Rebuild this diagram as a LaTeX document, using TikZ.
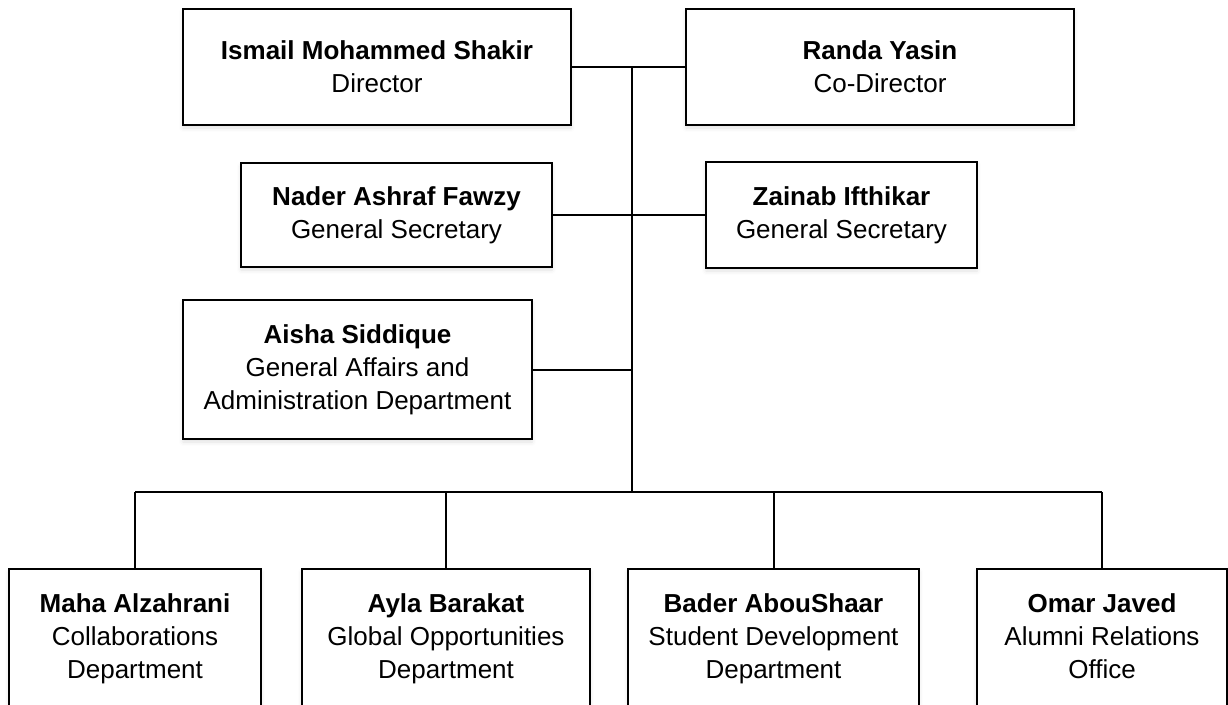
\documentclass[tikz,border=0pt]{standalone}
\usepackage{fontspec}
\setmainfont{Liberation Sans}
\usetikzlibrary{shadows.blur}

\begin{document}
\begin{tikzpicture}[x=1pt, y=-1pt,
    box/.style={draw, fill=white, line width=2pt, align=center, inner sep=0pt,
                font=\fontsize{26}{33}\selectfont,
                blur shadow={shadow xshift=0pt, shadow yshift=-3pt,
                             shadow blur radius=4pt, shadow opacity=12}},
    dept/.style={box, anchor=north, minimum height=140pt},
    link/.style={line width=2pt},
  ]
  \useasboundingbox (0,0) rectangle (1228,704);
  \clip (0,0) rectangle (1228,704);

  % top row
  \node[box, minimum width=388pt, minimum height=116pt] (dir)   at (377,67)
      {\textbf{Ismail Mohammed Shakir}\\Director};
  \node[box, minimum width=388pt, minimum height=116pt] (codir) at (880,67)
      {\textbf{Randa Yasin}\\Co-Director};
  % secretaries
  \node[box, minimum width=311pt, minimum height=104pt] (secA)  at (396.5,215)
      {\textbf{Nader Ashraf Fawzy}\\General Secretary};
  \node[box, minimum width=271pt, minimum height=106pt] (secB)  at (841.5,215)
      {\textbf{Zainab Ifthikar}\\General Secretary};
  \node[box, minimum width=349pt, minimum height=139pt] (admin) at (357.5,369.5)
      {\textbf{Aisha Siddique}\\General Affairs and\\Administration Department};
  % departments
  \node[dept, minimum width=252pt] (maha)  at (135,568)
      {\textbf{Maha Alzahrani}\\Collaborations\\Department};
  \node[dept, minimum width=288pt] (ayla)  at (446,568)
      {\textbf{Ayla Barakat}\\Global Opportunities\\Department};
  \node[dept, minimum width=291pt] (bader) at (773.5,568)
      {\textbf{Bader AbouShaar}\\Student Development\\Department};
  \node[dept, minimum width=250pt] (omar)  at (1102,568)
      {\textbf{Omar Javed}\\Alumni Relations\\Office\vphantom{p}};

  \coordinate (top) at (632,67);
  \coordinate (hub) at (632,492);

  \draw[link] (dir.east) -- (codir.west);
  \draw[link] (secA.east) -- (secB.west);
  \draw[link] (top) -- (hub);
  \draw[link] (admin.east) -- (admin.east -| top);
  \draw[link] (maha.north |- hub) -- (omar.north |- hub);
  \foreach \d in {maha,ayla,bader,omar}
    \draw[link] (\d.north |- hub) -- (\d.north);
\end{tikzpicture}
\end{document}
